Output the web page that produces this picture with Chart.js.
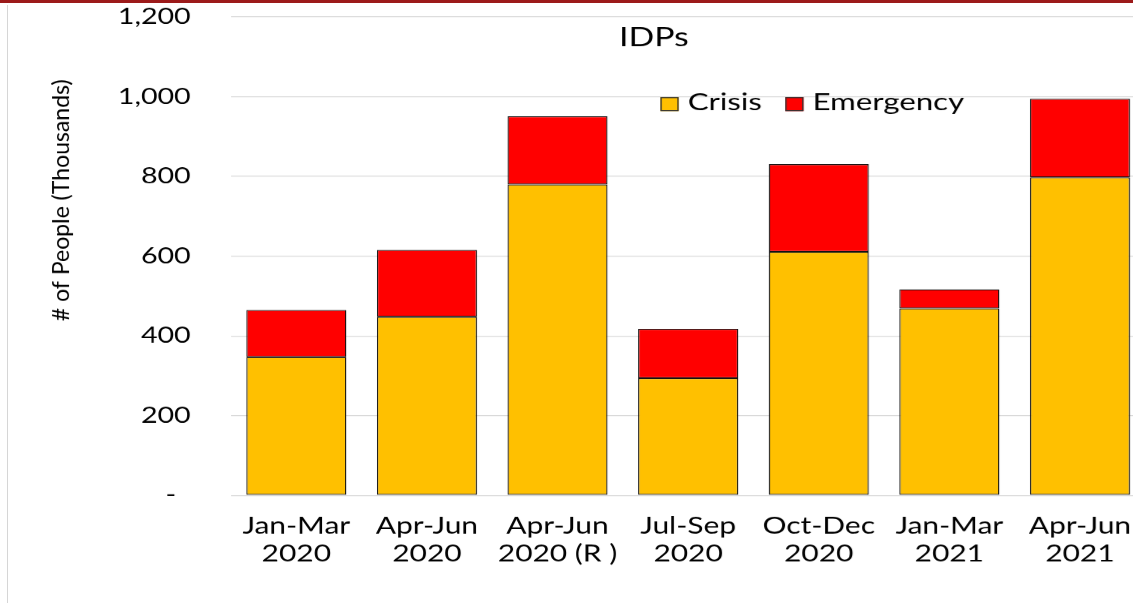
<!DOCTYPE html>
<html>
<head>
<meta charset="utf-8">
<script src="https://cdn.jsdelivr.net/npm/chart.js@4/dist/chart.umd.min.js"></script>
<style>
  html, body { margin: 0; padding: 0; background: #fff; overflow: hidden; width: 1133px; height: 603px; }
  #topLine { position: absolute; left: 0; top: 0; width: 1133px; height: 3px; background: #9c1a1a; }
  #leftLine { position: absolute; left: 7px; top: 5px; width: 1px; height: 598px; background: #d6d6d6; }
  #wrap { position: absolute; left: 0; top: 0; transform-origin: 0 0; }
</style>
</head>
<body>
<div id="topLine"></div>
<div id="leftLine"></div>
<div id="wrap"><canvas id="idpChart" width="887" height="603"></canvas></div>
<script>
// source slide was stretched sideways, so the chart is drawn narrow and scaled
const STRETCH = 1.3;

const categories = [
    ['Jan-Mar', '2020'],
    ['Apr-Jun', '2020'],
    ['Apr-Jun', '2020 (R )'],
    ['Jul-Sep', '2020'],
    ['Oct-Dec', '2020'],
    ['Jan-Mar', '2021'],
    ['Apr-Jun', '2021']
];
const crisis = [347, 448, 780, 294, 611, 469, 798];
const emergency = [118, 168, 171, 124, 220, 48, 197];
const yTickLabels = ['-  ', '200', '400', '600', '800', '1,000', '1,200'];

const chartTitle = 'IDPs';
const yTitle = '# of People (Thousands)';

const CRISIS_COLOR = '#FFC000';
const EMERGENCY_COLOR = '#FF0000';
const FONT = "Lato, 'Open Sans', sans-serif";

document.getElementById('wrap').style.transform = 'scaleX(' + STRETCH + ')';

// title, legend and axis title sit inside the plot, drawn by hand
const overlayPlugin = {
    id: 'overlay',
    afterDraw(chart) {
        const ctx = chart.ctx;
        ctx.save();
        ctx.fillStyle = '#000';
        ctx.textBaseline = 'alphabetic';

        ctx.font = '26px ' + FONT;
        ctx.textAlign = 'center';
        ctx.fillText(chartTitle, 503, 46);

        // legend
        ctx.font = '24px ' + FONT;
        ctx.textAlign = 'left';
        const items = [
            { x: 508, label: chart.data.datasets[0].label, color: chart.data.datasets[0].backgroundColor },
            { x: 604, label: chart.data.datasets[1].label, color: chart.data.datasets[1].backgroundColor }
        ];
        items.forEach(it => {
            ctx.fillStyle = it.color;
            ctx.fillRect(it.x, 97, 14, 14);
            ctx.strokeStyle = '#333';
            ctx.lineWidth = 1;
            ctx.strokeRect(it.x + 0.5, 97.5, 13, 13);
            ctx.fillStyle = '#000';
            ctx.fillText(it.label, it.x + 21, 110);
        });

        // y axis title, not stretched in the source
        ctx.translate(47.7, 200);
        ctx.scale(1 / STRETCH, 1);
        ctx.rotate(-Math.PI / 2);
        ctx.font = '23px ' + FONT;
        ctx.textAlign = 'center';
        ctx.textBaseline = 'middle';
        ctx.fillText(yTitle, 0, 0);
        ctx.restore();
    }
};

function initChart() {
    const ctx = document.getElementById('idpChart').getContext('2d');

    new Chart(ctx, {
        type: 'bar',
        data: {
            labels: categories,
            datasets: [
                {
                    label: 'Crisis',
                    data: crisis,
                    backgroundColor: CRISIS_COLOR,
                    borderColor: '#111',
                    borderWidth: 1,
                    borderSkipped: false
                },
                {
                    label: 'Emergency',
                    data: emergency,
                    backgroundColor: EMERGENCY_COLOR,
                    borderColor: '#111',
                    borderWidth: 1,
                    borderSkipped: false
                }
            ]
        },
        options: {
            responsive: false,
            animation: false,
            devicePixelRatio: STRETCH,
            layout: { padding: { top: 17, right: 0, bottom: 19, left: 0 } },
            categoryPercentage: 1,
            barPercentage: 0.766,
            plugins: {
                legend: { display: false },
                title: { display: false },
                tooltip: { enabled: false }
            },
            scales: {
                x: {
                    stacked: true,
                    grid: { display: false, drawTicks: false },
                    border: { display: false },
                    ticks: {
                        color: '#000',
                        padding: 17,
                        maxRotation: 0,
                        autoSkip: false,
                        font: { family: FONT, size: 23, lineHeight: 1.2 }
                    }
                },
                y: {
                    stacked: true,
                    min: 0,
                    max: 1200,
                    afterFit(scale) {
                        scale.width = 177.7;
                        scale.paddingTop = 0;
                        scale.paddingBottom = 0;
                    },
                    grid: { color: '#d9d9d9', lineWidth: 1, drawTicks: false },
                    border: { display: false },
                    ticks: {
                        stepSize: 200,
                        color: '#000',
                        padding: 31,
                        font: { family: FONT, size: 22 },
                        callback: (value) => yTickLabels[Math.round(value / 200)]
                    }
                }
            }
        },
        plugins: [overlayPlugin]
    });
}

window.addEventListener('load', initChart);
</script>
</body>
</html>
